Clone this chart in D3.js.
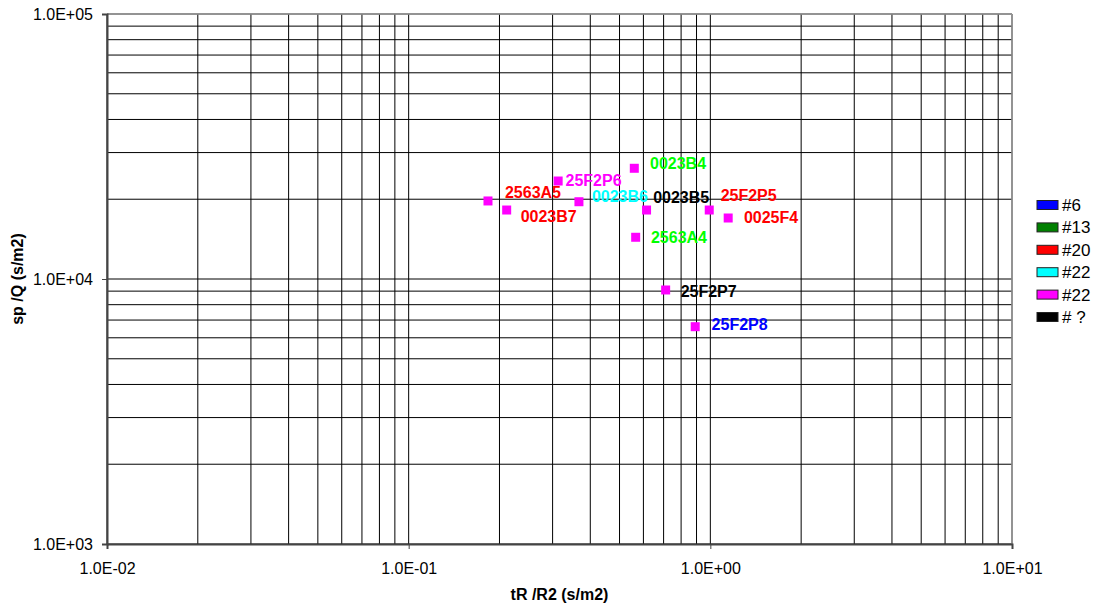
<!DOCTYPE html>
<html>
<head>
<meta charset="utf-8">
<script src="https://cdn.jsdelivr.net/npm/d3@7"></script>
<style>
  html, body { margin: 0; padding: 0; background: #fff; }
  svg { display: block; font-family: "Liberation Sans", Arial, sans-serif; }
</style>
</head>
<body>
<svg id="chart" width="1104" height="610"></svg>
<script>
// ---- Data ----
const pointLabels = ["2563A5","0023B7","25F2P6","0023B6","0023B4","0023B5","25F2P5","0025F4","2563A4","25F2P7","25F2P8"];
const xValues = [0.1832, 0.2113, 0.313, 0.3668, 0.5597, 0.6146, 0.9917, 1.146, 0.5656, 0.711, 0.891];
const yValues = [19700, 18210, 23430, 19570, 26170, 18210, 18210, 16990, 14370, 9090, 6607];
const labelColors = ["#FF0000","#FF0000","#FF00FF","#00FFFF","#00FF00","#000000","#FF0000","#FF0000","#00FF00","#000000","#0000FF"];
// label nudges (dx to text start, dy to baseline), as placed in the original
const labelNudges = [[17,-2.5],[14,11.7],[7.4,4.7],[13,0.6],[15.7,0.7],[6.6,-6.7],[11.4,-9.3],[15.7,5.3],[15.3,6],[15,6.7],[16.4,3.3]];

const legendNames = ["#6","#13","#20","#22","#22","# ?"];
const legendColors = ["#0000FF","#008000","#FF0000","#00FFFF","#FF00FF","#000000"];

const xDomain = [0.01, 10];
const yDomain = [1000, 100000];
const xTickValues = [0.01, 0.1, 1, 10];
const yTickValues = [1000, 10000, 100000];
const xTitle = "tR /R2 (s/m2)";
const yTitle = "sp /Q (s/m2)";

// ---- Layout ----
const svg = d3.select("#chart");
const L = 107, R = 1012, T = 14, B = 544;
const x = d3.scaleLog().domain(xDomain).range([L, R]);
const y = d3.scaleLog().domain(yDomain).range([B, T]);

const fmt = v => {
  const e = Math.floor(Math.log10(v) + 1e-9);
  const m = v / Math.pow(10, e);
  const s = e < 0 ? "-" : "+";
  return m.toFixed(1) + "E" + s + String(Math.abs(e)).padStart(2, "0");
};

// minor + major gridlines
function logGrid(domain) {
  const out = [];
  const e0 = Math.round(Math.log10(domain[0])), e1 = Math.round(Math.log10(domain[1]));
  for (let e = e0; e < e1; e++) for (let k = 1; k < 10; k++) out.push(k * Math.pow(10, e));
  out.push(domain[1]);
  return out;
}
const g = svg.append("g");
g.selectAll("line.vg").data(logGrid(xDomain)).join("line")
  .attr("x1", d => x(d)).attr("x2", d => x(d)).attr("y1", T).attr("y2", B)
  .attr("stroke", "#000").attr("stroke-width", 1);
g.selectAll("line.hg").data(logGrid(yDomain)).join("line")
  .attr("x1", L).attr("x2", R).attr("y1", d => y(d)).attr("y2", d => y(d))
  .attr("stroke", "#000").attr("stroke-width", 1);

// border top/right gray
svg.append("line").attr("x1", L).attr("x2", R).attr("y1", T).attr("y2", T).attr("stroke", "#9a9a9a").attr("stroke-width", 1.5);
svg.append("line").attr("x1", R).attr("x2", R).attr("y1", T).attr("y2", B).attr("stroke", "#9a9a9a").attr("stroke-width", 1.5);

// axes
const xAxis = d3.axisBottom(x).tickValues(xTickValues).tickFormat(fmt).tickSize(5).tickPadding(14);
const yAxis = d3.axisLeft(y).tickValues(yTickValues).tickFormat(fmt).tickSize(5).tickPadding(9);
const gx = svg.append("g").attr("transform", `translate(0,${B})`).call(xAxis);
const gy = svg.append("g").attr("transform", `translate(${L},0)`).call(yAxis);
[gx, gy].forEach(a => {
  a.select(".domain").attr("stroke", "#444").attr("stroke-width", 2);
  a.selectAll(".tick line").attr("stroke", "#444").attr("stroke-width", 1);
  a.selectAll(".tick text").attr("fill", "#000").style("font-size", "16px")
    .style("font-family", '"Liberation Sans", Arial, sans-serif');
});

// axis titles
svg.append("text").attr("x", (L + R) / 2).attr("y", 600).attr("text-anchor", "middle")
  .style("font-size", "16px").style("font-weight", "bold").text(xTitle);
svg.append("text").attr("transform", `translate(23,${(T + B) / 2}) rotate(-90)`).attr("text-anchor", "middle")
  .style("font-size", "16px").style("font-weight", "bold").text(yTitle);

// points
const pts = pointLabels.map((lab, i) => ({ lab, xv: xValues[i], yv: yValues[i], c: labelColors[i], n: labelNudges[i] }));
const ms = 9;
svg.append("g").selectAll("rect").data(pts).join("rect")
  .attr("x", d => x(d.xv) - ms / 2).attr("y", d => y(d.yv) - ms / 2)
  .attr("width", ms).attr("height", ms).attr("fill", "#FF00FF");
svg.append("g").selectAll("text").data(pts).join("text")
  .attr("x", d => x(d.xv) + d.n[0]).attr("y", d => y(d.yv) + d.n[1])
  .attr("fill", d => d.c).style("font-size", "16px").style("font-weight", "bold")
  .text(d => d.lab);

// legend
const lg = svg.append("g");
const ly0 = 205, lstep = 22.4;
legendNames.forEach((name, i) => {
  const cy = ly0 + i * lstep;
  lg.append("rect").attr("x", 1037).attr("y", cy - 4.5).attr("width", 21).attr("height", 9)
    .attr("fill", legendColors[i]).attr("stroke", "#222").attr("stroke-width", 1);
  lg.append("text").attr("x", 1062).attr("y", cy + 6).style("font-size", "17px").attr("fill", "#000").text(name);
});
</script>
</body>
</html>
